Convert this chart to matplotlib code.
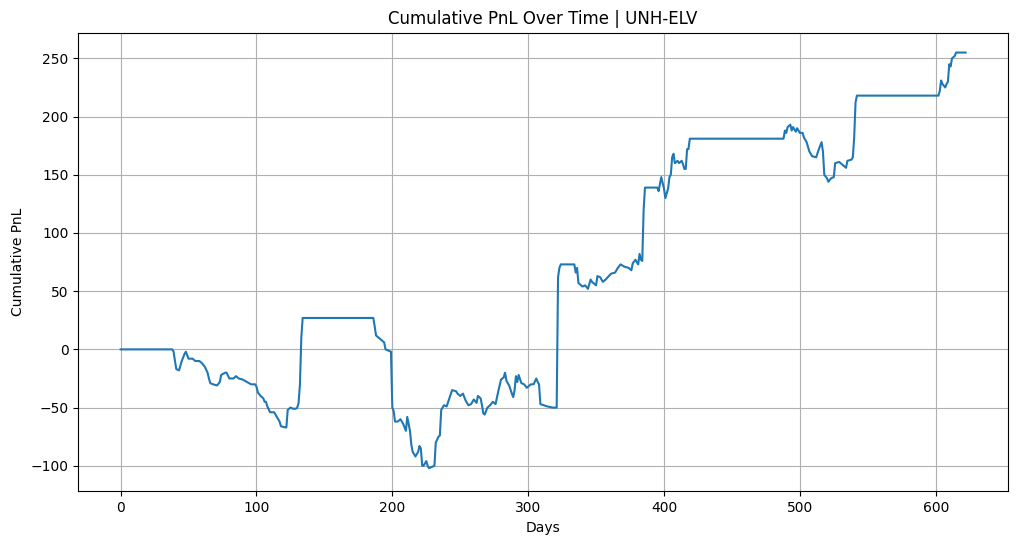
import matplotlib
matplotlib.use("Agg")
import matplotlib.pyplot as plt

days = [0,38,39,40,41,43,45,47,48,50,53,55,58,60,62,64,65,66,68,71,73,74,77,78,80,83,85,87,90,93,96,99,100,101,103,105,106,107,108,110,113,115,117,118,121,122,123,125,127,129,130,131,132,133,134,186,187,188,190,192,194,195,199,200,201,202,204,206,208,209,210,211,213,214,215,217,219,220,221,222,223,225,226,227,229,231,232,234,235,236,238,240,242,244,247,248,250,252,254,256,258,260,262,263,265,266,267,268,270,272,274,276,278,280,282,283,284,286,288,289,290,291,292,293,295,297,299,302,304,306,307,308,309,314,318,321,322,323,324,334,335,336,337,340,342,344,346,347,350,351,353,355,357,361,364,366,368,371,374,376,377,379,381,382,383,384,385,386,395,396,398,400,401,403,404,405,406,407,408,410,411,413,414,415,416,417,418,419,488,489,490,491,493,494,495,497,498,500,502,503,505,507,509,512,514,516,517,518,520,521,523,525,526,529,532,534,535,538,539,540,541,542,602,603,604,605,607,608,609,610,611,612,614,615,622]
pnl = [0,0,-2,-10,-17,-18,-10,-4,-2,-8,-8,-10,-10,-12,-15,-20,-25,-29,-30,-31,-28,-22,-20,-20,-25,-25,-23,-25,-26,-28,-30,-30,-32,-37,-40,-42,-45,-45,-49,-54,-54,-58,-62,-66,-67,-67,-52,-50,-51,-51,-50,-46,-30,10,27,27,20,12,10,8,6,0,-2,-50,-53,-62,-62,-60,-64,-67,-70,-58,-70,-82,-88,-92,-88,-83,-85,-100,-100,-96,-100,-102,-101,-100,-80,-75,-74,-52,-48,-49,-42,-35,-36,-38,-40,-38,-44,-48,-47,-43,-46,-40,-42,-48,-55,-56,-50,-48,-45,-47,-36,-26,-24,-20,-27,-31,-38,-41,-35,-23,-28,-22,-29,-30,-33,-30,-30,-25,-28,-30,-47,-49,-50,-50,62,70,73,73,66,70,57,54,55,52,60,58,55,63,62,58,60,65,66,70,73,71,70,68,74,77,73,82,77,76,120,139,139,136,148,138,130,138,148,150,165,168,160,162,160,162,159,155,155,172,172,181,181,188,186,191,193,188,191,187,190,186,186,182,178,170,166,165,172,178,170,150,147,144,147,148,160,161,158,156,162,163,165,182,212,218,218,222,231,228,225,228,230,245,243,250,252,255,255]

fig, ax = plt.subplots(figsize=(10.18, 5.46), dpi=100)
ax.plot(days, pnl, color="#1f77b4", linewidth=1.5)
ax.set_title("Cumulative PnL Over Time | UNH-ELV")
ax.set_xlabel("Days")
ax.set_ylabel("Cumulative PnL")
ax.grid(True)
ax.set_ylim(-122, 272)
fig.subplots_adjust(left=0.077, right=0.99, top=0.94, bottom=0.1)
fig.savefig("out.png")
